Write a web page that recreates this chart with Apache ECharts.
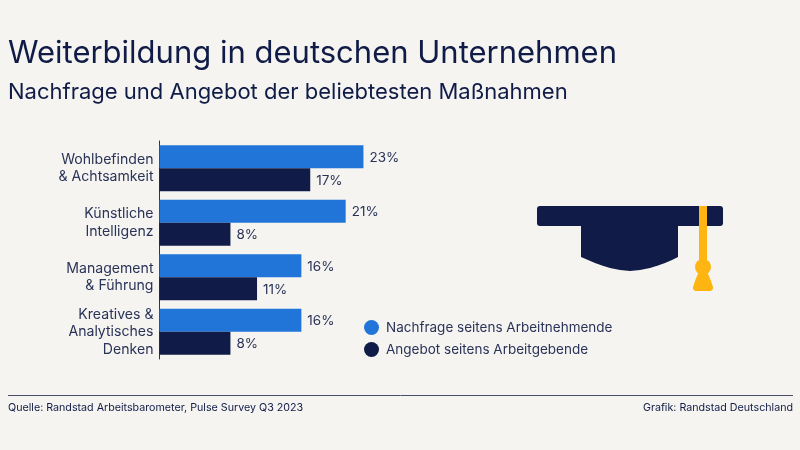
<!DOCTYPE html>
<html><head><meta charset="utf-8">
<style>html,body{margin:0;padding:0;background:#f5f4f0}#c{width:800px;height:450px}</style>
<script src="https://cdn.jsdelivr.net/npm/echarts@6/dist/echarts.min.js"></script></head>
<body><div id="c"></div>
<script>
const categories = ["Wohlbefinden\n& Achtsamkeit","Künstliche\nIntelligenz","Management\n& Führung","Kreatives &\nAnalytisches\nDenken"];
const nachfrage = [23,21,16,16];
const angebot = [17,8,11,8];
const seriesNames = ["Nachfrage seitens Arbeitnehmende","Angebot seitens Arbeitgebende"];
const navy = "#101c47", blue = "#2175d9", gold = "#ffb511", F = "Inter";
const chart = echarts.init(document.getElementById("c"),null,{renderer:"canvas"});
const lab = {show:true,position:"right",distance:6,offset:[0,1],formatter:"{c}%",color:"#2a3358",fontFamily:F,fontSize:13.5};
chart.setOption({
  animation:false, backgroundColor:"#f5f4f0",
  title:[
    {text:"Weiterbildung in deutschen Unternehmen",left:3,top:33,textStyle:{color:navy,fontFamily:F,fontSize:31,fontWeight:400}},
    {text:"Nachfrage und Angebot der beliebtesten Maßnahmen",left:3,top:76,textStyle:{color:navy,fontFamily:F,fontSize:22,fontWeight:400}},
    {text:"Quelle: Randstad Arbeitsbarometer, Pulse Survey Q3 2023",left:3,top:397,textStyle:{color:navy,fontFamily:F,fontSize:10.7,fontWeight:400}},
    {text:"Grafik: Randstad Deutschland",right:2,top:397,textStyle:{color:navy,fontFamily:F,fontSize:10.7,fontWeight:400}}
  ],
  legend:{left:359,top:315,orient:"vertical",itemGap:7,itemWidth:15,itemHeight:15,icon:"circle",
    textStyle:{color:"#2a3358",fontFamily:F,fontSize:13.5,padding:[0,0,0,2]}},
  grid:{left:159.5,top:141,width:266,height:218},
  xAxis:{type:"value",min:0,max:30,show:false},
  yAxis:{type:"category",inverse:true,data:categories,
    axisLine:{lineStyle:{color:"#2a3358",width:1}},axisTick:{show:false},
    axisLabel:{margin:6,color:"#2a3358",fontFamily:F,fontSize:14.1,lineHeight:17.5,align:"right",padding:[2,0,0,0]}},
  series:[
    {name:seriesNames[0],type:"bar",data:nachfrage,barWidth:23,barGap:0,itemStyle:{color:blue},label:lab},
    {name:seriesNames[1],type:"bar",data:angebot,barWidth:23,itemStyle:{color:navy},label:lab}
  ],
  graphic:[
    {type:"line",shape:{x1:8,y1:395.5,x2:793,y2:395.5},style:{stroke:"#4a4f68",lineWidth:1}},
    {type:"polygon",shape:{points:[[581,226],[678,226],[678,257],[672,260],[665,263],[658,265.5],[650,268],[640,270],[630,271],[620,270],[610,268],[602,265.5],[595,263],[588,260],[581,257]]},style:{fill:navy}},
    {type:"rect",shape:{x:537,y:206,width:186,height:20,r:3},style:{fill:navy}},
    {type:"rect",shape:{x:699,y:206,width:8,height:58},style:{fill:gold}},
    {type:"circle",shape:{cx:703,cy:267,r:8},style:{fill:gold}},
    {type:"polygon",shape:{points:[[699,272],[707,272],[709,276],[711,281],[713,287],[713,289],[711,291],[695,291],[693,289],[693,287],[695,281],[697,276]]},style:{fill:gold}}
  ]
});
</script></body></html>
